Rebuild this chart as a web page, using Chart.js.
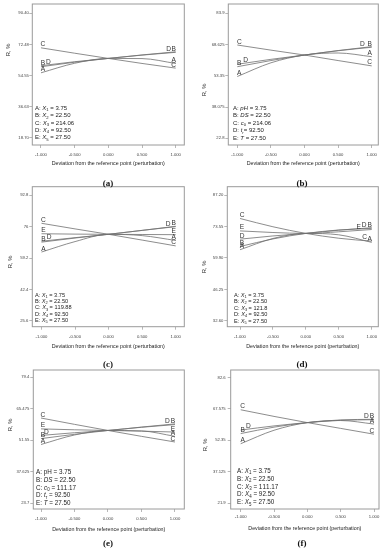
<!DOCTYPE html>
<html><head><meta charset="utf-8">
<script src="https://cdn.jsdelivr.net/npm/chart.js@4/dist/chart.umd.min.js"></script>
<style>
body{margin:0;background:#fff;width:388px;height:550px;position:relative;overflow:hidden}
canvas{position:absolute}
.cap{position:absolute;font:bold 9px "Liberation Serif";color:#111;transform:translate(-50%,-50%);white-space:nowrap}
</style></head><body>
<canvas id="ca" width="194" height="180" style="left:0;top:0"></canvas>
<canvas id="cb" width="194" height="180" style="left:194px;top:0"></canvas>
<canvas id="cc" width="194" height="180" style="left:0;top:180px"></canvas>
<canvas id="cd" width="194" height="180" style="left:194px;top:180px"></canvas>
<canvas id="ce" width="194" height="190" style="left:0;top:360px"></canvas>
<canvas id="cf" width="194" height="190" style="left:194px;top:360px"></canvas>
<div class="cap" style="left:108px;top:183px">(a)</div>
<div class="cap" style="left:302px;top:183px">(b)</div>
<div class="cap" style="left:108px;top:364px">(c)</div>
<div class="cap" style="left:302px;top:364px">(d)</div>
<div class="cap" style="left:108px;top:543px">(e)</div>
<div class="cap" style="left:302px;top:543px">(f)</div>
<script>
// ---------- data ----------
const xDeviation = [-1, -0.5, 0, 0.5, 1];
const xTickValues = [-1, -0.5, 0, 0.5, 1];
const xTickLabels = ['-1.000', '-0.500', '0.000', '0.500', '1.000'];
const xTitle = 'Deviation from the reference point (perturbation)';
const yTitle = 'R, %';

// (a)
const a_A = [56.1, 61.6, 64.4, 64.3, 61.5];
const a_B = [59.6, 62.2, 64.4, 66.3, 67.9];
const a_C = [70.5, 67.4, 64.4, 61.5, 58.8];
const a_D = [60.2, 62.5, 64.4, 66.4, 68.2];
const a_yTicks = [18.70, 36.63, 54.55, 72.48, 90.40];
const a_yLabels = ['18.70', '36.63', '54.55', '72.48', '90.40'];
const a_legend = ['A: *X*_1 = 3.75', 'B: *X*_2 = 22.50', 'C: *X*_3 = 214.06', 'D: *X*_4 = 92.50', 'E: *X*_5 = 27.50'];

// (b)
const b_A = [53.0, 59.7, 63.5, 64.5, 62.7];
const b_B = [57.8, 60.8, 63.5, 65.6, 67.3];
const b_C = [68.4, 65.9, 63.5, 60.8, 58.2];
const b_D = [59.0, 61.4, 63.5, 65.7, 67.6];
const b_yTicks = [22.8, 38.075, 53.35, 68.625, 83.9];
const b_yLabels = ['22.8', '38.075', '53.35', '68.625', '83.9'];
const b_legend = ['A: *pH* = 3.75', 'B: *DS* = 22.50', 'C: *c*_0 = 214.06', 'D: *t*_r= 92.50', 'E: *T* = 27.50'];

// (c)
const c_A = [62.4, 68.0, 71.9, 71.2, 68.6];
const c_B = [67.7, 69.9, 71.9, 74.0, 76.0];
const c_C = [77.8, 74.8, 71.9, 68.8, 65.7];
const c_D = [68.2, 70.1, 71.9, 74.0, 76.2];
const c_E = [72.2, 72.0, 71.9, 71.8, 71.7];
const c_yTicks = [25.6, 42.4, 59.2, 76, 92.8];
const c_yLabels = ['25.6', '42.4', '59.2', '76', '92.8'];
const c_legend = ['A: *X*_1 = 3.75', 'B: *X*_2 = 22.50', 'C: *X*_3 = 119.88', 'D: *X*_4 = 92.50', 'E: *X*_5 = 27.50'];

// (d)
const d_A = [63.5, 68.4, 70.6, 70.0, 66.7];
const d_B = [64.9, 68.2, 70.6, 72.1, 72.8];
const d_C = [77.1, 73.5, 70.6, 68.5, 67.2];
const d_D = [68.1, 69.5, 70.6, 72.0, 73.1];
const d_E = [71.7, 71.0, 70.6, 71.3, 72.3];
const d_yTicks = [32.60, 46.25, 59.90, 73.55, 87.20];
const d_yLabels = ['32.60', '46.25', '59.90', '73.55', '87.20'];
const d_legend = ['A: *X*_1 = 3.75', 'B: *X*_2 = 22.50', 'C: *X*_3 = 121.8', 'D: *X*_4 = 92.50', 'E: *X*_5 = 27.50'];

// (e)
const e_A = [49.7, 53.9, 55.9, 55.7, 53.3];
const e_B = [52.3, 54.2, 55.9, 57.3, 58.5];
const e_C = [61.4, 58.6, 55.9, 53.3, 50.8];
const e_D = [53.7, 54.9, 55.9, 57.4, 58.8];
const e_E = [56.6, 56.2, 55.9, 55.6, 55.2];
const e_yTicks = [23.7, 37.625, 51.55, 65.475, 79.4];
const e_yLabels = ['23.7', '37.625', '51.55', '65.475', '79.4'];
const e_legend = ['A: pH = 3.75', 'B: *DS* = 22.50', 'C: *c*_0 = 111.17', 'D: *t*_r = 92.50', 'E: *T* = 27.50'];

// (f)
const f_A = [50.7, 57.2, 60.9, 61.9, 60.2];
const f_B = [55.6, 58.7, 60.9, 62.2, 62.5];
const f_C = [67.1, 63.9, 60.9, 58.1, 55.3];
const f_D = [57.3, 59.3, 60.9, 62.0, 62.3];
const f_yTicks = [21.9, 37.125, 52.35, 67.575, 82.6];
const f_yLabels = ['21.9', '37.125', '52.35', '67.575', '82.6'];
const f_legend = ['A: *X*_1 = 3.75', 'B: *X*_2 = 22.50', 'C: *X*_3 = 111.17', 'D: *X*_4 = 92.50', 'E: *X*_5 = 27.50'];

// ---------- layout / style (not data) ----------
const FONT = '"Liberation Sans", Arial, sans-serif';
const panels = [
  {id:'ca', series:{A:a_A,B:a_B,C:a_C,D:a_D}, yT:a_yTicks, yL:a_yLabels, legend:a_legend,
   area:[32.3,4,184.3,145], xr:[-1.129,1.128], yr:[14.49,95.76], xPad:4, yPad:0.5,
   leg:{x:35,y:108.3,gap:7.35,size:6}, yTi:[8.5,50], xTi:164, shiftL:{D:0.08}, shiftR:{D:-0.075}},
  {id:'cb', series:{A:b_A,B:b_B,C:b_C,D:b_D}, yT:b_yTicks, yL:b_yLabels, legend:b_legend,
   area:[34.3,4,184.3,145], xr:[-1.134,1.098], yr:[19.52,88.45], xPad:4, yPad:0.8,
   leg:{x:39,y:108.3,gap:7.5,size:6}, yTi:[10,90], xTi:164, shiftL:{D:0.094}, shiftR:{D:-0.11}},
  {id:'cc', series:{A:c_A,B:c_B,C:c_C,D:c_D,E:c_E}, yT:c_yTicks, yL:c_yLabels, legend:c_legend,
   area:[32.3,6.7,184.3,146.7], xr:[-1.137,1.128], yr:[22.39,97.41], xPad:5, yPad:1,
   leg:{x:35,y:115,gap:6.4,size:5.6}, yTi:[10,82], xTi:166.7, shiftL:{D:0.085}, shiftR:{D:-0.085}},
  {id:'cd', series:{A:d_A,B:d_B,C:d_C,D:d_D,E:d_E}, yT:d_yTicks, yL:d_yLabels, legend:d_legend,
   area:[33.3,6.7,184.3,146.7], xr:[-1.193,1.100], yr:[29.99,90.94], xPad:5, yPad:1,
   leg:{x:40,y:115,gap:6.5,size:5.6}, yTi:[10,87], xTi:166.7, shiftL:{}, shiftR:{E:-0.167,D:-0.086,C:-0.076}},
  {id:'ce', series:{A:e_A,B:e_B,C:e_C,D:e_D,E:e_E}, yT:e_yTicks, yL:e_yLabels, legend:e_legend,
   area:[33.3,10,184.3,149], xr:[-1.115,1.139], yr:[21.18,82.63], xPad:4.7, yPad:1,
   leg:{x:36,y:112.3,gap:7.75,size:6.3}, yTi:[10,65], xTi:169.3, shiftL:{D:0.05}, shiftR:{D:-0.085}},
  {id:'cf', series:{A:f_A,B:f_B,C:f_C,D:f_D}, yT:f_yTicks, yL:f_yLabels, legend:f_legend,
   area:[36.7,10,185,149], xr:[-1.15,1.075], yr:[19.15,86.32], xPad:2.7, yPad:2,
   leg:{x:43,y:111,gap:7.9,size:6.3}, yTi:[11.7,85], xTi:168.3, shiftL:{D:0.085}, shiftR:{D:-0.085}}
];

function drawRich(ctx, str, x, y, size){
  let italic = false, sub = false, cx = x;
  ctx.textAlign = 'left'; ctx.textBaseline = 'middle';
  for (const ch of str){
    if (ch === '*'){ italic = !italic; continue; }
    if (ch === '_'){ sub = true; continue; }
    const fs = sub ? size*0.7 : size;
    ctx.font = (italic ? 'italic ' : '') + fs + 'px ' + FONT;
    ctx.fillText(ch, cx, sub ? y + size*0.3 : y);
    cx += ctx.measureText(ch).width;
    sub = false;
  }
}

const decor = {
  id:'decor',
  afterDatasetsDraw(chart, args, opts){
    const p = opts.panel, ctx = chart.ctx, a = chart.chartArea;
    const xs = chart.scales.x;
    ctx.save();
    // box
    ctx.strokeStyle = '#9a9a9a'; ctx.lineWidth = 1;
    ctx.strokeRect(a.left, a.top, a.right - a.left, a.bottom - a.top);
    // end labels
    ctx.fillStyle = '#333'; ctx.font = '6.6px ' + FONT;
    ctx.textAlign = 'center'; ctx.textBaseline = 'middle';
    chart.data.datasets.forEach((ds, i) => {
      const pts = chart.getDatasetMeta(i).data;
      const n = pts.length;
      const sl = p.shiftL[ds.label] || 0, sr = p.shiftR[ds.label] || 0;
      let lx = xs.getPixelForValue(xDeviation[0] + sl);
      let ly = pts[0].y + (pts[1].y - pts[0].y) * ((lx - pts[0].x) / (pts[1].x - pts[0].x));
      ctx.fillText(ds.label, lx + 2, ly - 3.3);
      let rx = xs.getPixelForValue(xDeviation[n-1] + sr);
      let ry = pts[n-1].y + (pts[n-2].y - pts[n-1].y) * ((pts[n-1].x - rx) / (pts[n-1].x - pts[n-2].x));
      ctx.fillText(ds.label, rx - 2, ry - 3.3);
    });
    // factor legend
    ctx.fillStyle = '#222';
    p.legend.forEach((t, i) => drawRich(ctx, t, p.leg.x, p.leg.y + i*p.leg.gap, p.leg.size));
    // y title
    ctx.font = '5.8px ' + FONT; ctx.fillStyle = '#222';
    ctx.save(); ctx.translate(p.yTi[0], p.yTi[1]); ctx.rotate(-Math.PI/2);
    ctx.textAlign = 'center'; ctx.textBaseline = 'middle';
    ctx.fillText(yTitle, 0, 0); ctx.restore();
    // x title
    ctx.font = '5.3px ' + FONT; ctx.textAlign = 'center'; ctx.textBaseline = 'middle';
    ctx.fillText(xTitle, (a.left + a.right)/2, p.xTi);
    ctx.restore();
  }
};

panels.forEach(p => {
  const canvas = document.getElementById(p.id);
  const W = canvas.width, H = canvas.height;
  const datasets = Object.keys(p.series).map(k => ({
    label: k,
    data: xDeviation.map((x, i) => ({x, y: p.series[k][i]})),
    borderColor: '#707070', borderWidth: 0.8, pointRadius: 0,
    cubicInterpolationMode: 'monotone', fill: false
  }));
  new Chart(canvas, {
    type: 'line',
    data: {datasets},
    plugins: [decor],
    options: {
      responsive: false, animation: false, devicePixelRatio: 1,
      layout: {padding: {left: 0, top: p.area[1], right: W - p.area[2], bottom: 0}},
      plugins: {legend: {display: false}, tooltip: {enabled: false}, decor: {panel: p}},
      scales: {
        x: {
          type: 'linear', min: p.xr[0], max: p.xr[1],
          afterBuildTicks: s => { s.ticks = xTickValues.map(v => ({value: v})); },
          afterFit: s => { s.height = H - p.area[3]; },
          ticks: {font: {size: 4.2, family: FONT}, color: '#444', padding: p.xPad, maxRotation: 0, autoSkip: false,
                  callback: (v, i) => xTickLabels[i]},
          grid: {drawOnChartArea: false, drawTicks: true, tickLength: 3, color: '#888', lineWidth: 0.6},
          border: {display: false}
        },
        y: {
          type: 'linear', min: p.yr[0], max: p.yr[1],
          afterBuildTicks: s => { s.ticks = p.yT.map(v => ({value: v})); },
          afterFit: s => { s.width = p.area[0]; },
          ticks: {font: {size: 4.2, family: FONT}, color: '#444', padding: p.yPad, autoSkip: false,
                  callback: (v, i) => p.yL[i]},
          grid: {drawOnChartArea: false, drawTicks: true, tickLength: 3, color: '#888', lineWidth: 0.6},
          border: {display: false}
        }
      }
    }
  });
});
</script>
</body></html>
